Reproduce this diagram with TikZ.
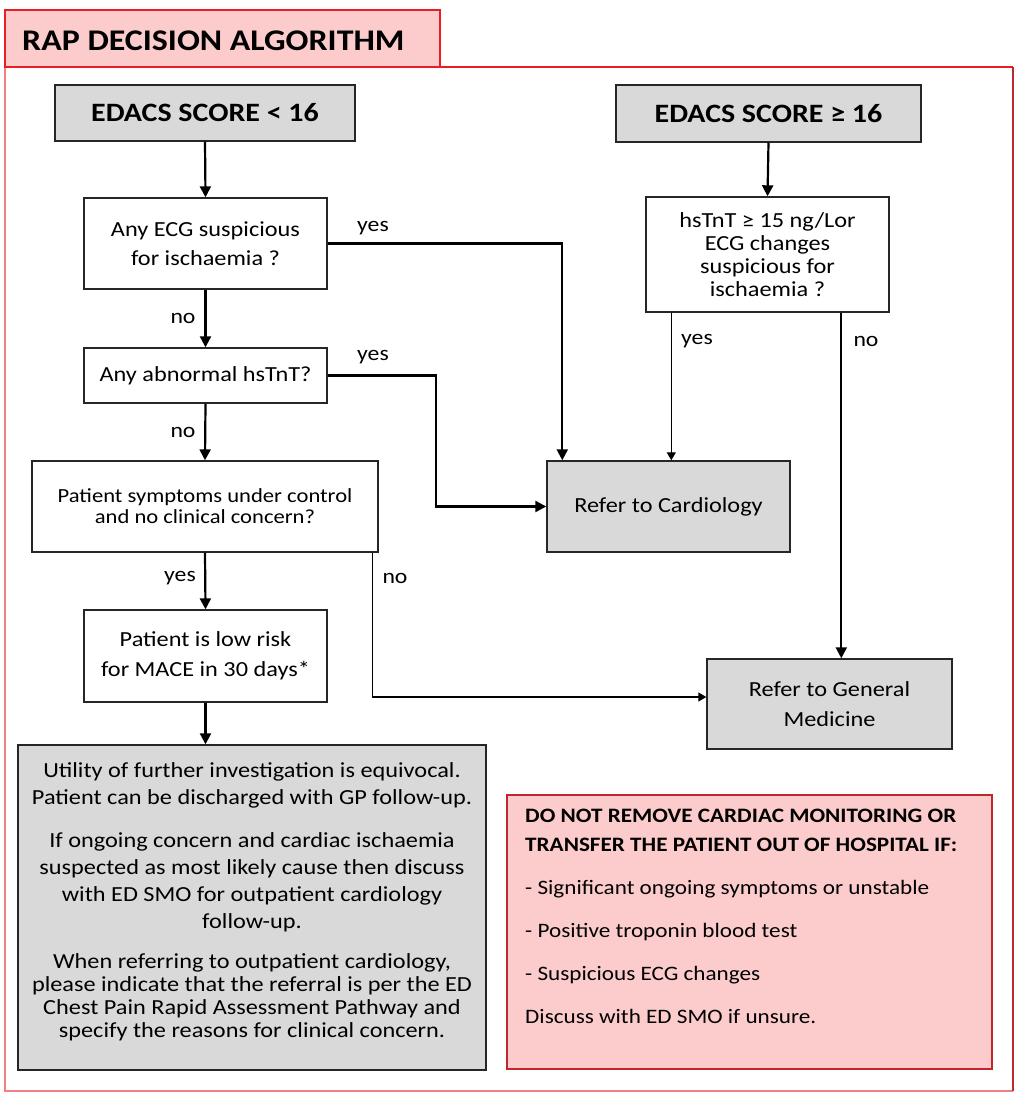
\documentclass[tikz,border=0pt]{standalone}
\usepackage{fontspec}
\setmainfont{Carlito}[FakeStretch=1.13]
\usetikzlibrary{arrows.meta,positioning}
\definecolor{boxgray}{RGB}{217,217,217}
\definecolor{tabpink}{RGB}{252,204,204}
\definecolor{framered}{RGB}{236,28,36}
\definecolor{framepink}{RGB}{242,128,128}
\definecolor{darkred}{RGB}{190,40,45}

\tikzset{
  graybox/.style={draw=black!85, line width=1.4pt, fill=boxgray, align=center, inner sep=0pt},
  whitebox/.style={draw=black!85, line width=1.4pt, fill=white, align=center, inner sep=0pt},
  body/.style={font=\fontsize{21.5}{#1}\selectfont},
  arr/.style={line width=2.2pt, -{Triangle[length=11pt,width=11pt]}},
  thinarr/.style={line width=1.3pt, -{Triangle[length=8pt,width=9pt]}},
  lab/.style={font=\fontsize{21}{24}\selectfont, inner sep=0pt},
}

\begin{document}
\begin{tikzpicture}[x=1pt,y=-1pt]
        \useasboundingbox (0,0) rectangle (1017,1101);
        % frame and title tab
        \draw[framered, line width=2.5pt] (440,67) -- (1013,67);
        \draw[framepink, line width=2.5pt] (5,67) -- (5,1091) -- (1013,1091);
        \draw[darkred, line width=2pt] (1013,67) -- (1013,1091);
        \draw[framered, line width=2.5pt, fill=tabpink] (5,67) -- (5,10) -- (440,10) -- (440,67) -- cycle;
        \node[anchor=base west, inner sep=0pt, font=\bfseries\fontsize{30}{36}\selectfont] (title) at (22,50) {RAP DECISION ALGORITHM};

        % left column
        \node[graybox, minimum width=300pt, minimum height=56pt, font=\bfseries\fontsize{26.5}{30}\selectfont] (s1) at (205,113) {EDACS SCORE < 16};
        \node[whitebox, body=29, minimum width=243pt, minimum height=91pt] (ecg) at (205.5,243.5) {Any ECG suspicious\\for ischaemia ?};
        \node[whitebox, body=24, minimum width=243pt, minimum height=55pt] (abn) at (205.5,375.5) {Any abnormal hsTnT?};
        \node[whitebox, font=\fontsize{20}{21}\selectfont, minimum width=346pt, minimum height=91pt] (sym) at (205,506.5) {Patient symptoms under control\\and no clinical concern?};
        \node[whitebox, body=30, minimum width=243pt, minimum height=92pt] (low) at (205.5,656) {Patient is low risk\\for MACE in 30 days*};
        \node[graybox, minimum width=468pt, minimum height=325pt] (util) at (252,907.5) {};
        \node[body=27, align=center, inner sep=0pt] (utiltext) at (252,902) {Utility of further investigation is equivocal.\\Patient can be discharged with GP follow-up.\\[16pt]
          If ongoing concern and cardiac ischaemia\\suspected as most likely cause then discuss\\with ED SMO for outpatient cardiology\\follow-up.\\[13pt]
          When referring to outpatient cardiology,\\[-4pt]please indicate that the referral is per the ED\\[-4pt]Chest Pain Rapid Assessment Pathway and\\[-4pt]specify the reasons for clinical concern.};

        % right column
        \node[graybox, minimum width=305pt, minimum height=57pt, font=\bfseries\fontsize{26.5}{30}\selectfont] (s2) at (768.5,113.5) {EDACS SCORE ≥ 16};
        \node[whitebox, body=23, minimum width=243pt, minimum height=115pt] (hs) at (767.5,254.5) {hsTnT ≥ 15 ng/Lor\\ECG changes\\suspicious for\\ischaemia ?};
        \node[graybox, body=24, minimum width=243pt, minimum height=91pt] (card) at (668.5,506.5) {Refer to Cardiology};
        \node[graybox, body=30, minimum width=245pt, minimum height=90pt] (gm) at (829.5,704) {Refer to General\\Medicine};
        \node[draw=darkred, line width=2pt, fill=tabpink, minimum width=485pt, minimum height=274pt] (warn) at (749.5,932) {};
        \node[anchor=north west, align=left, inner sep=0pt, font=\fontsize{20.5}{29}\selectfont] (warntext) at (525,809)
          {\textbf{DO NOT REMOVE CARDIAC MONITORING OR}\\\textbf{TRANSFER THE PATIENT OUT OF HOSPITAL IF:}\\[14pt]
           - Significant ongoing symptoms or unstable\\[14pt]- Positive troponin blood test\\[14pt]- Suspicious ECG changes\\[14pt]Discuss with ED SMO if unsure.};

        % connectors
        \draw[arr] (s1.south) -- (ecg.north);
        \draw[arr] (ecg.south) -- (abn.north);
        \draw[arr] (abn.south) -- (sym.north);
        \draw[arr] (sym.south) -- (low.north);
        \draw[arr] (low.south) -- (low.south |- util.north);
        \draw[arr] (ecg.east) -| ([xshift=16pt]card.north west);
        \draw[arr] (abn.east) -| ([xshift=-110pt]card.west) -- (card.west);
        \draw[arr] (s2.south) -- (hs.north);
        \draw[thinarr] ([xshift=26pt]hs.south west) -- ([xshift=26pt]hs.south west |- card.north);
        \draw[arr] ([xshift=196pt]hs.south west) -- ([xshift=196pt]hs.south west |- gm.north);
        \draw[thinarr] ([xshift=-6pt]sym.south east) |- ([yshift=7pt]gm.west);

        % yes / no labels
        \node[lab] (yes1) at (373,228) {yes};
        \node[lab] (no1) at (183,318) {no};
        \node[lab] (yes2) at (373,357) {yes};
        \node[lab] (no2) at (183,432) {no};
        \node[lab] (yes3) at (180,578) {yes};
        \node[lab] (no3) at (395,578) {no};
        \node[lab] (yes4) at (697,341) {yes};
        \node[lab] (no4) at (866,341) {no};
\end{tikzpicture}
\end{document}
